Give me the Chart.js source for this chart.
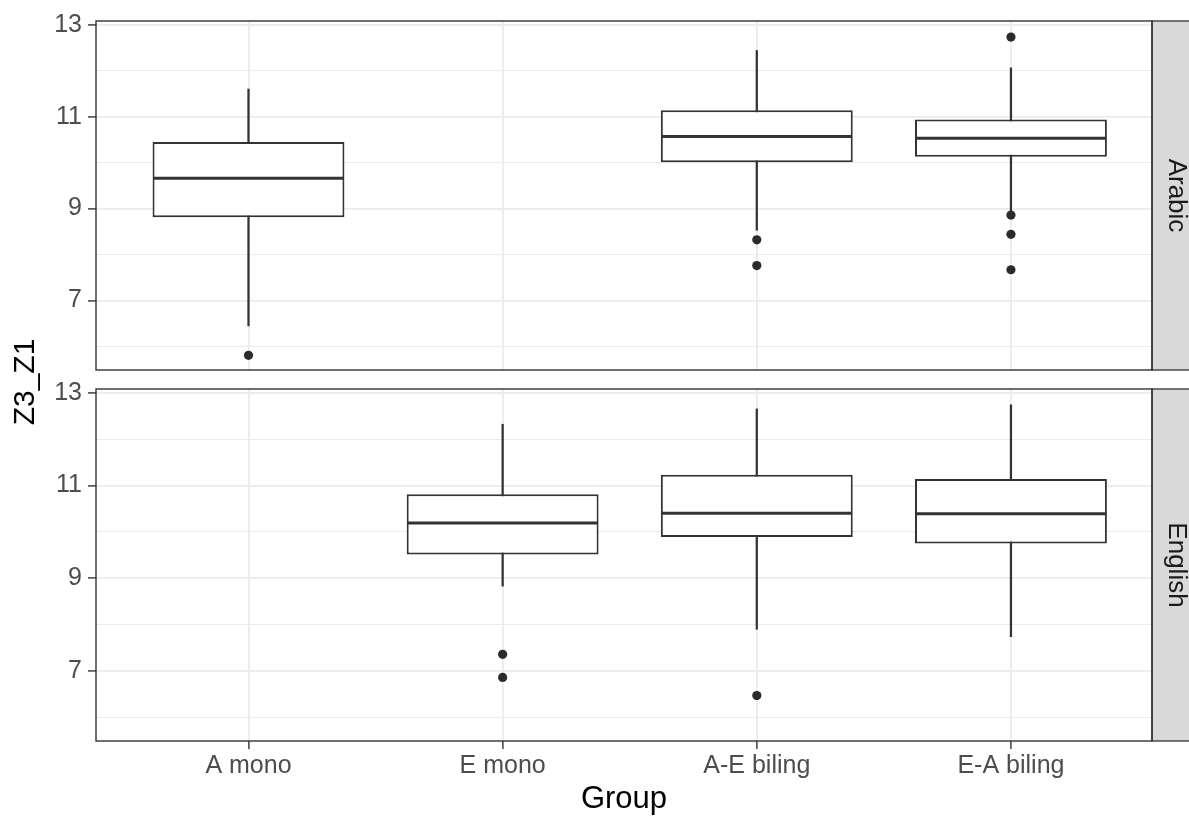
<!DOCTYPE html>
<html>
<head>
<meta charset="utf-8">
<script src="https://cdn.jsdelivr.net/npm/chart.js@4.4.1/dist/chart.umd.min.js"></script>
<style>
  html, body { margin: 0; padding: 0; background: #fff; }
  #wrap { position: relative; width: 1189px; height: 816px; }
  #wrap canvas { position: absolute; left: 0; top: 0; }
</style>
</head>
<body>
<div id="wrap">
  <canvas id="arabic" width="1189" height="816"></canvas>
  <canvas id="english" width="1189" height="816"></canvas>
</div>
<script>
// categories and tick labels
const groups = ["A mono", "E mono", "A-E biling", "E-A biling"];
const yGridValues = [6, 7, 8, 9, 10, 11, 12, 13];
const yTickLabels = [7, 9, 11, 13];

// Arabic panel (null = group not present)
const arabicLow    = [6.45, null, 8.53, 8.90];
const arabicQ1     = [8.81, null, 10.01, 10.13];
const arabicMedian = [9.66, null, 10.57, 10.53];
const arabicQ3     = [10.45, null, 11.14, 10.94];
const arabicHigh   = [11.60, null, 12.44, 12.06];
const arabicOutliers = [[5.81], [], [8.32, 7.76], [12.73, 8.86, 8.44, 7.67]];

// English panel
const englishLow    = [null, 8.83, 7.90, 7.74];
const englishQ1     = [null, 9.51, 9.89, 9.75];
const englishMedian = [null, 10.19, 10.40, 10.39];
const englishQ3     = [null, 10.81, 11.23, 11.14];
const englishHigh   = [null, 12.32, 12.65, 12.74];
const englishOutliers = [[], [7.36, 6.86], [6.47], []];

const INK = "#333333";
const GRID = "#EBEBEB";
const boxHalf = 0.375;

Chart.defaults.font.family = '"Liberation Sans", Arial, sans-serif';

function rangeData(lo, hi) {
  return groups.map((g, i) => lo[i] == null ? null : { x: i, y: [lo[i], hi[i]] }).filter(Boolean);
}

function outlierData(list) {
  const pts = [];
  list.forEach((vals, i) => vals.forEach(v => pts.push({ x: i, y: v })));
  return pts;
}

// medians, panel border, facet strip and the shared y title
const panelDecor = {
  id: "panelDecor",
  afterDatasetsDraw(chart, args, opts) {
    const { ctx, scales: { x, y } } = chart;
    ctx.save();
    ctx.strokeStyle = INK;
    ctx.lineWidth = 3;
    opts.median.forEach((m, i) => {
      if (m == null) return;
      const py = y.getPixelForValue(m);
      ctx.beginPath();
      ctx.moveTo(x.getPixelForValue(i - boxHalf), py);
      ctx.lineTo(x.getPixelForValue(i + boxHalf), py);
      ctx.stroke();
    });
    ctx.restore();
  },
  afterDraw(chart, args, opts) {
    const { ctx, chartArea: a } = chart;
    ctx.save();
    // strip
    ctx.fillStyle = "#D9D9D9";
    ctx.fillRect(a.right, a.top, 45, a.bottom - a.top);
    ctx.strokeStyle = INK;
    ctx.lineWidth = 1.3;
    ctx.strokeRect(a.right, a.top, 45, a.bottom - a.top);
    ctx.translate(a.right + 24, (a.top + a.bottom) / 2);
    ctx.rotate(Math.PI / 2);
    ctx.fillStyle = "#1A1A1A";
    ctx.font = '26px "Liberation Sans", Arial, sans-serif';
    ctx.textAlign = "center";
    ctx.textBaseline = "middle";
    ctx.fillText(opts.strip, 0, 0);
    ctx.restore();

    ctx.save();
    ctx.strokeStyle = INK;
    ctx.lineWidth = 1.4;
    ctx.strokeRect(a.left, a.top, a.right - a.left, a.bottom - a.top);
    ctx.restore();

    if (opts.yTitle) {
      ctx.save();
      ctx.translate(26, 382);
      ctx.rotate(-Math.PI / 2);
      ctx.fillStyle = "#000";
      ctx.font = '30px "Liberation Sans", Arial, sans-serif';
      ctx.textAlign = "center";
      ctx.textBaseline = "middle";
      ctx.fillText(opts.yTitle, 0, 0);
      ctx.restore();
    }
  }
};

function makePanel(id, strip, low, q1, median, q3, high, outliers, isBottom) {
  const ctx = document.getElementById(id).getContext("2d");
  return new Chart(ctx, {
    type: "bar",
    data: {
      datasets: [
        {
          type: "scatter",
          data: outlierData(outliers),
          backgroundColor: "#2B2B2B",
          borderWidth: 0,
          pointRadius: 4.6,
          order: 1
        },
        {
          data: rangeData(q1, q3),
          backgroundColor: "#FFFFFF",
          borderColor: INK,
          borderWidth: 2,
          borderSkipped: false,
          grouped: false,
          categoryPercentage: 1,
          barPercentage: 0.755,
          order: 2
        },
        {
          data: rangeData(low, high),
          backgroundColor: INK,
          borderWidth: 0,
          grouped: false,
          barThickness: 1.6,
          order: 3
        }
      ]
    },
    options: {
      responsive: false,
      animation: false,
      devicePixelRatio: 1,
      layout: {
        padding: isBottom
          ? { left: 0, top: 389, right: 37, bottom: 0 }
          : { left: 0, top: 20, right: 37, bottom: 446 }
      },
      plugins: {
        legend: { display: false },
        tooltip: { enabled: false },
        panelDecor: { median: median, strip: strip, yTitle: isBottom ? "" : "Z3_Z1" }
      },
      scales: {
        x: {
          type: "linear",
          min: -0.6,
          max: 3.555,
          offset: false,
          afterBuildTicks: axis => { axis.ticks = groups.map((g, i) => ({ value: i })); },
          afterFit: s => { s.height = isBottom ? 75 : 0; },
          border: { display: false },
          grid: {
            offset: false,
            color: GRID,
            lineWidth: 1.8,
            drawTicks: isBottom,
            tickColor: INK,
            tickWidth: 1.4,
            tickLength: 8
          },
          ticks: {
            display: isBottom,
            padding: 2,
            color: "#4D4D4D",
            font: { size: 25 },
            maxRotation: 0,
            autoSkip: false,
            callback: v => groups[v]
          },
          title: {
            display: isBottom,
            text: "Group",
            color: "#000",
            font: { size: 31 },
            padding: { top: 0, bottom: -2 }
          }
        },
        y: {
          type: "linear",
          min: 5.49,
          max: 13.08,
          afterBuildTicks: axis => { axis.ticks = yGridValues.map(v => ({ value: v })); },
          afterFit: s => { s.width = 96; },
          border: { display: false },
          grid: {
            color: GRID,
            lineWidth: c => yTickLabels.includes(c.tick && c.tick.value) ? 1.8 : 1,
            tickColor: c => yTickLabels.includes(c.tick && c.tick.value) ? INK : "rgba(0,0,0,0)",
            tickWidth: 1.4,
            tickLength: 8
          },
          ticks: {
            padding: 6,
            color: "#4D4D4D",
            font: { size: 25 },
            autoSkip: false,
            callback: v => yTickLabels.includes(v) ? String(v) : ""
          }
        }
      }
    },
    plugins: [panelDecor]
  });
}

makePanel("arabic", "Arabic", arabicLow, arabicQ1, arabicMedian, arabicQ3, arabicHigh, arabicOutliers, false);
makePanel("english", "English", englishLow, englishQ1, englishMedian, englishQ3, englishHigh, englishOutliers, true);
</script>
</body>
</html>
